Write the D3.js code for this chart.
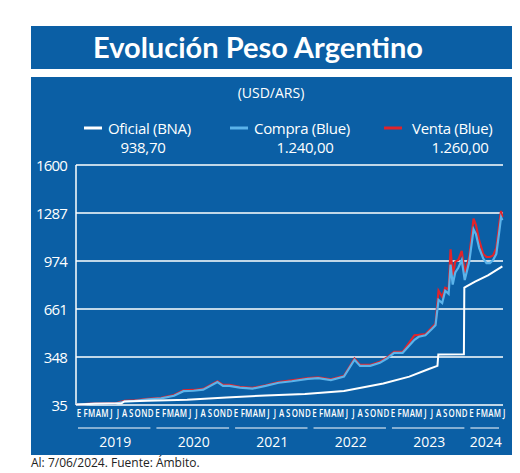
<!DOCTYPE html>
<html><head><meta charset="utf-8">
<script src="https://cdn.jsdelivr.net/npm/d3@7"></script>
<style>body{margin:0;background:#fff}svg{display:block}</style>
</head><body><svg id="c"></svg>
<script>
const yTicks = [35, 348, 661, 974, 1287, 1600];
const monthLetters = ["E","F","M","A","M","J","J","A","S","O","N","D"];
const years = ["2019","2020","2021","2022","2023","2024"];

// [date, value]
const oficial = [
  ["2019-01-01",38],["2019-04-01",43],["2019-08-01",46],["2019-08-14",58],["2019-12-01",63],
  ["2020-06-01",70],["2020-12-01",84],["2021-06-01",97],["2021-12-01",106],
  ["2022-06-01",127],["2022-12-01",175],["2023-04-01",220],["2023-07-01",270],
  ["2023-08-10",290],["2023-08-14",365],["2023-12-11",366],["2023-12-13",800],
  ["2024-02-01",840],["2024-04-01",880],["2024-06-07",939]
];
const compra = [
  ["2019-01-01",37],["2019-04-01",44],["2019-07-01",43],["2019-08-15",58],["2019-10-01",62],["2019-12-01",72],
  ["2020-02-01",78],["2020-04-01",95],["2020-05-15",125],["2020-07-01",128],["2020-08-15",135],["2020-10-20",185],["2020-11-15",160],["2020-12-15",160],
  ["2021-02-01",148],["2021-04-01",142],["2021-06-01",160],["2021-08-01",180],["2021-10-01",190],["2021-12-15",205],
  ["2022-02-01",210],["2022-04-01",197],["2022-06-01",220],["2022-07-20",330],["2022-08-15",290],["2022-10-01",290],["2022-11-15",310],["2022-12-20",340],
  ["2023-01-20",375],["2023-03-01",375],["2023-04-25",460],["2023-05-15",480],["2023-06-15",490],["2023-07-15",530],["2023-08-01",555],["2023-08-15",720],
  ["2023-09-01",700],["2023-09-15",780],["2023-10-01",760],["2023-10-10",950],["2023-10-20",820],["2023-11-01",900],["2023-11-15",930],["2023-12-01",980],["2023-12-15",850],
  ["2024-01-05",970],["2024-01-25",1180],["2024-02-05",1150],["2024-02-20",1060],["2024-03-10",990],["2024-03-25",960],["2024-04-10",960],["2024-04-25",980],["2024-05-10",1020],["2024-05-25",1180],["2024-06-01",1260],["2024-06-07",1240]
];
const venta = [
  ["2019-01-01",38],["2019-04-01",46],["2019-07-01",45],["2019-08-15",62],["2019-10-01",65],["2019-12-01",75],
  ["2020-02-01",82],["2020-04-01",100],["2020-05-15",130],["2020-07-01",133],["2020-08-15",140],["2020-10-20",190],["2020-11-15",166],["2020-12-15",166],
  ["2021-02-01",153],["2021-04-01",147],["2021-06-01",164],["2021-08-01",184],["2021-10-01",195],["2021-12-15",210],
  ["2022-02-01",215],["2022-04-01",202],["2022-06-01",225],["2022-07-20",338],["2022-08-15",296],["2022-10-01",296],["2022-11-15",316],["2022-12-20",346],
  ["2023-01-20",381],["2023-03-01",381],["2023-04-25",490],["2023-05-15",492],["2023-06-15",497],["2023-07-15",540],["2023-08-01",565],["2023-08-15",780],
  ["2023-09-01",740],["2023-09-15",800],["2023-10-01",790],["2023-10-10",1050],["2023-10-20",880],["2023-11-01",970],["2023-11-15",980],["2023-12-01",1040],["2023-12-15",900],
  ["2024-01-05",1000],["2024-01-25",1250],["2024-02-05",1210],["2024-02-20",1110],["2024-03-10",1020],["2024-03-25",1000],["2024-04-10",1000],["2024-04-25",1010],["2024-05-10",1060],["2024-05-25",1230],["2024-06-01",1300],["2024-06-07",1260]
];

const W = 520, H = 473, blue = "#0b5fa5";
const svg = d3.select("#c").attr("width", W).attr("height", H);
svg.append("rect").attr("x",31).attr("y",26).attr("width",481).attr("height",43).attr("fill",blue);
svg.append("rect").attr("x",31).attr("y",77).attr("width",481).attr("height",378).attr("fill",blue);
svg.append("text").attr("x",258).attr("y",58).attr("text-anchor","middle").attr("fill","#fff")
  .attr("font-family","Lato").attr("font-weight","bold").attr("font-size",29).text("Evolución Peso Argentino");
svg.append("text").attr("x",271).attr("y",98).attr("text-anchor","middle").attr("fill","#fff")
  .attr("font-family","Open Sans").attr("font-size",14).text("(USD/ARS)");

const legend = [
  {name:"Oficial (BNA)", val:"938,70", color:"#fff", x:84, cx:143},
  {name:"Compra (Blue)", val:"1.240,00", color:"#5bb3ea", x:230, cx:305},
  {name:"Venta (Blue)", val:"1.260,00", color:"#e2232a", x:384, cx:460}
];
legend.forEach(l => {
  svg.append("line").attr("x1",l.x).attr("x2",l.x+18).attr("y1",128).attr("y2",128).attr("stroke",l.color).attr("stroke-width",3);
  svg.append("text").attr("x",l.x+(l.name[0]==="V"?28:24)).attr("y",134).attr("fill","#fff").attr("font-family","Open Sans").attr("font-size",15).attr("letter-spacing",-0.3).text(l.name);
  svg.append("text").attr("x",l.cx).attr("y",153).attr("text-anchor","middle").attr("fill","#fff").attr("font-family","Open Sans").attr("font-size",15).attr("letter-spacing",-0.3).text(l.val);
});

const parse = d3.timeParse("%Y-%m-%d");
const x = d3.scaleTime().domain([new Date(2019,0,1), new Date(2024,5,10)]).range([76, 503]);
const y = d3.scaleLinear().domain([35,1600]).range([405,165]);

const g = svg.append("g");
g.selectAll("line.grid").data(yTicks).join("line").attr("class","grid")
  .attr("x1",76).attr("x2",503).attr("y1",d=>y(d)).attr("y2",d=>y(d)).attr("stroke","#fff").attr("stroke-width",1.5);
g.append("line").attr("x1",76).attr("x2",76).attr("y1",y(1600)).attr("y2",y(35)).attr("stroke","#fff").attr("stroke-width",1.5);
g.selectAll("text.yt").data(yTicks).join("text").attr("class","yt")
  .attr("x",67).attr("y",d=>y(d)+6).attr("text-anchor","end").attr("fill","#fff")
  .attr("font-family","Open Sans").attr("font-size",15).attr("letter-spacing",-0.8).text(d=>d);

const line = d3.line().x(d=>x(parse(d[0]))).y(d=>y(d[1]));
g.append("path").datum(venta).attr("d",line).attr("fill","none").attr("stroke","#e2232a").attr("stroke-width",2.2);
g.append("path").datum(compra).attr("d",line).attr("fill","none").attr("stroke","#5bb3ea").attr("stroke-width",2.2);
g.append("path").datum(oficial).attr("d",line).attr("fill","none").attr("stroke","#fff").attr("stroke-width",2);

const months = d3.timeMonth.range(new Date(2019,0,1), new Date(2024,6,1));
g.selectAll("text.m").data(months).join("text").attr("class","m")
  .attr("x",d=>x(d)+3).attr("y",417).attr("text-anchor","middle").attr("fill","#fff")
  .attr("font-family","Open Sans").attr("font-size",11).attr("font-weight","600")
  .attr("transform",d=>`translate(${x(d)+3},0) scale(0.72,1) translate(${-(x(d)+3)},0)`)
  .text(d=>monthLetters[d.getMonth()]);

years.forEach((yr,i) => {
  const a = x(new Date(+yr,0,1)), b = x(i===5 ? new Date(2024,5,10) : new Date(+yr+1,0,1));
  g.append("line").attr("x1",a+2).attr("x2",b-4).attr("y1",428).attr("y2",428).attr("stroke","#fff");
  g.append("text").attr("x",(a+b)/2).attr("y",447).attr("text-anchor","middle").attr("fill","#fff")
    .attr("font-family","Open Sans").attr("font-size",14).text(yr);
});

svg.append("text").attr("x",31).attr("y",467).attr("fill","#222").attr("font-family","Open Sans")
  .attr("font-size",12).text("Al: 7/06/2024. Fuente: Ámbito.");
</script></body></html>
